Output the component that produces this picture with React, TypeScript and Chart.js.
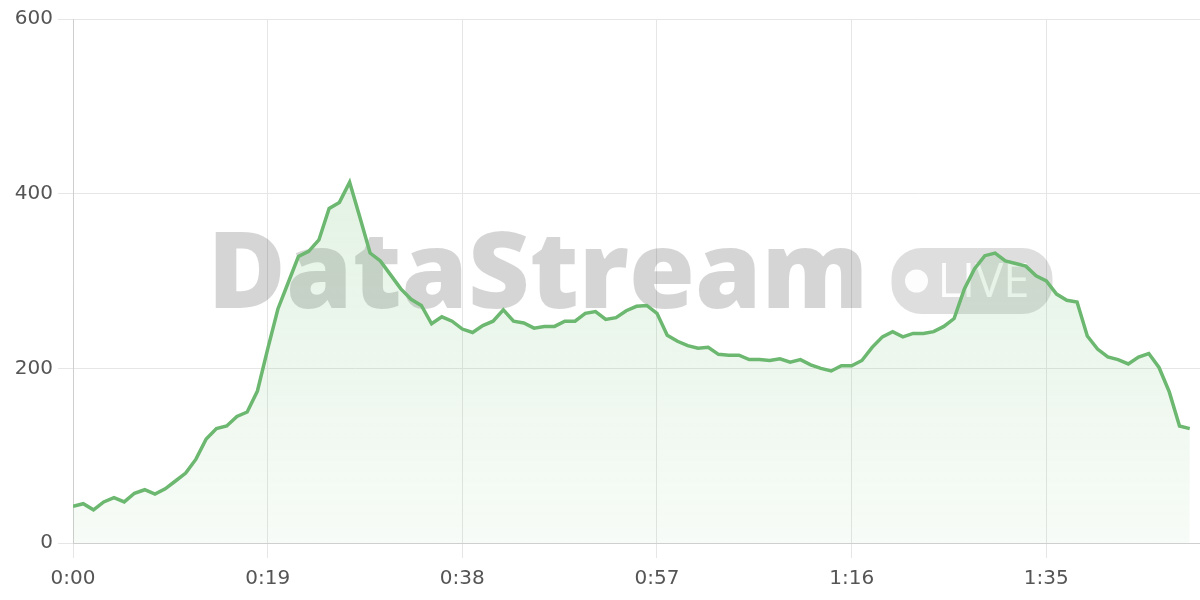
import React, { useEffect, useRef } from "react";
import { Chart, registerables } from "chart.js";

Chart.register(...registerables);

// Values per minute (0:00 .. 1:49)
const values: number[] = [
  42, 45, 38, 47, 52, 47, 57, 61, 56, 62,
  71, 80, 96, 119, 131, 134, 145, 150, 174, 222,
  268, 298, 328, 334, 347, 383, 390, 413, 373, 332,
  323, 307, 291, 279, 272, 251, 259, 254, 245, 241,
  249, 254, 267, 254, 252, 246, 248, 248, 254, 254,
  263, 265, 256, 258, 266, 271, 272, 263, 238, 231,
  226, 223, 224, 216, 215, 215, 210, 210, 209, 211,
  207, 210, 204, 200, 197, 203, 203, 209, 224, 236,
  242, 236, 240, 240, 242, 248, 257, 291, 314, 329,
  332, 323, 320, 317, 306, 300, 285, 278, 276, 237,
  222, 213, 210, 205, 213, 217, 201, 173, 134, 131,
];

const xTickLabels: string[] = ["0:00", "0:19", "0:38", "0:57", "1:16", "1:35"];
const xTickStep = 19;
const xMax = 110;
const yTickLabels: number[] = [0, 200, 400, 600];

const watermarkTitle = "DataStream";
const watermarkBadge = "LIVE";

const FONT = "'DejaVu Sans', sans-serif";
const GREEN = "rgb(108,184,112)";

const watermarkPlugin = {
  id: "watermark",
  beforeDatasetsDraw(chart: any) {
    const { ctx, chartArea } = chart;
    const cx = (chartArea.left + chartArea.right) / 2;
    const cy = (chartArea.top + chartArea.bottom) / 2;
    ctx.save();
    // title, fitted to a target width
    ctx.fillStyle = "rgba(0,0,0,0.165)";
    ctx.font = "800 100px 'Open Sans', sans-serif";
    const w100 = ctx.measureText(watermarkTitle).width || 660;
    const size = Math.min(120, (100 * 661) / w100);
    ctx.font = `800 ${size.toFixed(1)}px 'Open Sans', sans-serif`;
    ctx.textBaseline = "alphabetic";
    ctx.textAlign = "left";
    ctx.fillText(watermarkTitle, cx - 429, cy + 27);
    // badge
    const bx = cx + 255, by = cy - 33, bw = 161, bh = 66, r = 30;
    ctx.fillStyle = "rgba(0,0,0,0.13)";
    ctx.beginPath();
    ctx.moveTo(bx + r, by);
    ctx.lineTo(bx + bw - r, by);
    ctx.arcTo(bx + bw, by, bx + bw, by + r, r);
    ctx.lineTo(bx + bw, by + bh - r);
    ctx.arcTo(bx + bw, by + bh, bx + bw - r, by + bh, r);
    ctx.lineTo(bx + r, by + bh);
    ctx.arcTo(bx, by + bh, bx, by + bh - r, r);
    ctx.lineTo(bx, by + r);
    ctx.arcTo(bx, by, bx + r, by, r);
    ctx.closePath();
    ctx.fill();
    ctx.fillStyle = "rgba(255,255,255,0.92)";
    ctx.beginPath();
    ctx.arc(cx + 280, cy, 11.5, 0, Math.PI * 2);
    ctx.fill();
    ctx.font = "47px 'Open Sans', sans-serif";
    ctx.fillText(watermarkBadge, cx + 301, cy + 16);
    ctx.restore();
  },
};

export default function App() {
  const canvasRef = useRef<HTMLCanvasElement | null>(null);

  useEffect(() => {
    document.body.style.margin = "0";
    const canvas = canvasRef.current;
    if (!canvas) return;
    const chart = new Chart(canvas, {
      type: "line",
      data: {
        datasets: [
          {
            data: values.map((v, i) => ({ x: i, y: v })),
            borderColor: GREEN,
            borderWidth: 3.5,
            pointRadius: 0,
            tension: 0,
            fill: "origin",
            backgroundColor: (context: any) => {
              const { chart } = context;
              const area = chart.chartArea;
              if (!area) return "rgba(102,187,106,0.12)";
              const g = chart.ctx.createLinearGradient(0, area.top, 0, area.bottom);
              g.addColorStop(0, "rgba(102,187,106,0.24)");
              g.addColorStop(1, "rgba(102,187,106,0.05)");
              return g;
            },
          },
        ],
      },
      options: {
        animation: false,
        responsive: false,
        layout: { padding: { top: 19, left: 0, right: 0, bottom: 0 } },
        plugins: {
          legend: { display: false },
          tooltip: { enabled: false },
        },
        scales: {
          x: {
            type: "linear",
            min: 0,
            max: xMax,
            afterFit: (scale: any) => {
              scale.height = 57;
            },
            ticks: {
              stepSize: xTickStep,
              includeBounds: false,
              color: "#555",
              font: { family: FONT, size: 20 },
              padding: 9,
              maxRotation: 0,
              callback: (v: any) => {
                const idx = Math.round(Number(v) / xTickStep);
                return Number(v) % xTickStep === 0 ? xTickLabels[idx] ?? "" : "";
              },
            },
            grid: {
              color: "#e6e6e6",
              lineWidth: 1,
              tickLength: 15,
            },
            border: { color: "#cfcfcf", width: 1 },
          },
          y: {
            min: yTickLabels[0],
            max: yTickLabels[yTickLabels.length - 1],
            afterFit: (scale: any) => {
              scale.width = 73;
            },
            ticks: {
              stepSize: yTickLabels[1] - yTickLabels[0],
              color: "#555",
              font: { family: FONT, size: 20 },
              padding: 5,
            },
            grid: {
              color: "#e6e6e6",
              lineWidth: 1,
              tickLength: 15,
            },
            border: { color: "#cfcfcf", width: 1 },
          },
        },
      },
      plugins: [watermarkPlugin],
    } as any);
    return () => chart.destroy();
  }, []);

  return (
    <div style={{ position: "absolute", left: 0, top: 0, width: 1200, height: 600, background: "#fff" }}>
      <canvas ref={canvasRef} width={1200} height={600} />
    </div>
  );
}
